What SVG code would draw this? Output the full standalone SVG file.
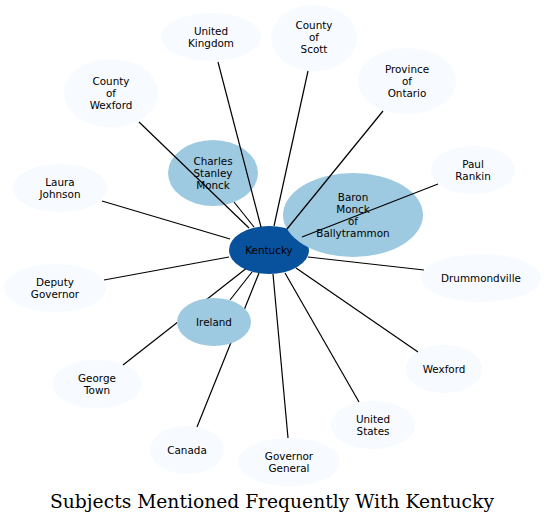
<svg xmlns="http://www.w3.org/2000/svg" width="545" height="523" viewBox="0 0 545 523">
<style>
.lt{fill:#f7fbff}
.md{fill:#9ecae1}
.dk{fill:#08519c}
text{font-family:"DejaVu Sans",sans-serif;font-size:10.4px;text-anchor:middle;fill:#000}
.edges line{stroke:#000;stroke-width:1.2}
.title{font-family:"DejaVu Serif",serif;font-size:18.7px}
</style>
<rect width="545" height="523" fill="#fff"/>
<g id="node-united-kingdom"><ellipse class="lt" cx="211" cy="37" rx="50" ry="24"/><text x="211" y="34.5">United</text><text x="211" y="46.5">Kingdom</text></g>
<g id="node-county-of-scott"><ellipse class="lt" cx="314" cy="38" rx="43" ry="33"/><text x="314" y="28.5">County</text><text x="314" y="40.5">of</text><text x="314" y="52.5">Scott</text></g>
<g id="node-province-of-ontario"><ellipse class="lt" cx="407" cy="81" rx="49" ry="33"/><text x="407" y="72.5">Province</text><text x="407" y="84.5">of</text><text x="407" y="96.5">Ontario</text></g>
<g id="node-county-of-wexford"><ellipse class="lt" cx="111" cy="93" rx="47" ry="34"/><text x="111" y="84.5">County</text><text x="111" y="96.5">of</text><text x="111" y="108.5">Wexford</text></g>
<g id="node-paul-rankin"><ellipse class="lt" cx="473" cy="170" rx="42" ry="24"/><text x="473" y="167.5">Paul</text><text x="473" y="179.5">Rankin</text></g>
<g id="node-laura-johnson"><ellipse class="lt" cx="60" cy="188" rx="47" ry="24"/><text x="60" y="185.5">Laura</text><text x="60" y="197.5">Johnson</text></g>
<g id="node-drummondville"><ellipse class="lt" cx="481" cy="278" rx="60" ry="24"/><text x="481" y="281.5">Drummondville</text></g>
<g id="node-deputy-governor"><ellipse class="lt" cx="55" cy="288" rx="51" ry="24"/><text x="55" y="285.5">Deputy</text><text x="55" y="297.5">Governor</text></g>
<g id="node-george-town"><ellipse class="lt" cx="97" cy="384" rx="45" ry="24"/><text x="97" y="381.5">George</text><text x="97" y="393.5">Town</text></g>
<g id="node-wexford"><ellipse class="lt" cx="444" cy="369" rx="38" ry="24"/><text x="444" y="372.5">Wexford</text></g>
<g id="node-united-states"><ellipse class="lt" cx="373" cy="425" rx="42" ry="24"/><text x="373" y="422.5">United</text><text x="373" y="434.5">States</text></g>
<g id="node-canada"><ellipse class="lt" cx="187" cy="450" rx="37" ry="24"/><text x="187" y="453.5">Canada</text></g>
<g id="node-governor-general"><ellipse class="lt" cx="289" cy="462" rx="51" ry="24"/><text x="289" y="459.5">Governor</text><text x="289" y="471.5">General</text></g>
<g id="node-charles-stanley-monck"><ellipse class="md" cx="213" cy="173" rx="45" ry="33"/><text x="213" y="164.5">Charles</text><text x="213" y="176.5">Stanley</text><text x="213" y="188.5">Monck</text></g>
<g id="node-kentucky"><ellipse class="dk" cx="269" cy="250" rx="40" ry="24"/><text x="269" y="253.5">Kentucky</text></g>
<g id="node-baron-monck-of-ballytrammon"><ellipse class="md" cx="353" cy="215" rx="70" ry="42"/><text x="353" y="200.5">Baron</text><text x="353" y="212.5">Monck</text><text x="353" y="224.5">of</text><text x="353" y="236.5">Ballytrammon</text></g>
<g id="connectors" class="edges">
<line x1="218" y1="62" x2="261" y2="227"/>
<line x1="308" y1="71" x2="274" y2="226"/>
<line x1="383" y1="111" x2="287" y2="229"/>
<line x1="139" y1="122" x2="249" y2="228"/>
<line x1="234" y1="202" x2="254" y2="227"/>
<line x1="102" y1="201" x2="230" y2="239"/>
<line x1="104" y1="280" x2="229" y2="257"/>
<line x1="438" y1="184" x2="302" y2="237"/>
<line x1="424" y1="270" x2="308" y2="257"/>
<line x1="418" y1="352" x2="296" y2="268"/>
<line x1="359" y1="402" x2="285" y2="273"/>
<line x1="288" y1="438" x2="273" y2="274"/>
<line x1="197" y1="427" x2="259" y2="273"/>
<line x1="123" y1="365" x2="245.5" y2="269"/>
<line x1="230" y1="300" x2="252" y2="272"/>
</g>
<g id="node-ireland"><ellipse class="md" cx="214" cy="322" rx="37" ry="24"/><text x="214" y="325.5">Ireland</text></g>
<text class="title" x="272" y="508">Subjects Mentioned Frequently With Kentucky</text>
</svg>
